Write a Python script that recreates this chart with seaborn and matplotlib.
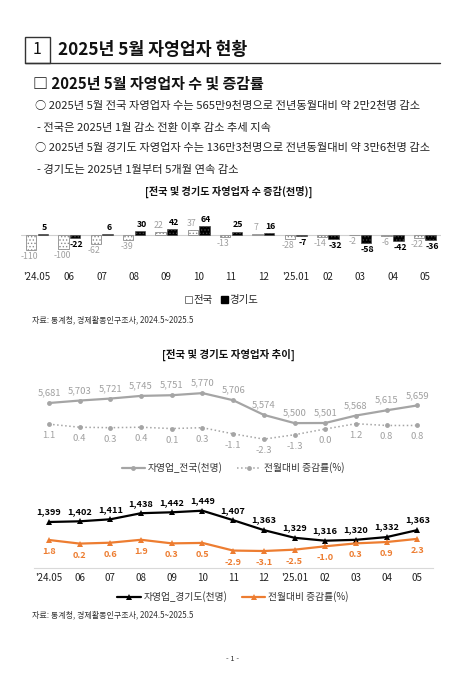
import pandas as pd
import seaborn as sns
import matplotlib.pyplot as plt
from matplotlib.patches import Patch, Rectangle
from matplotlib.lines import Line2D

months = ["'24.05", "06", "07", "08", "09", "10", "11", "12", "'25.01", "02", "03", "04", "05"]
diff_nat = [-110, -100, -62, -39, 22, 37, -13, 7, -28, -14, -2, -6, -22]
diff_gg = [5, -22, 6, 30, 42, 64, 25, 16, -7, -32, -58, -42, -36]
nat_val = [5681, 5703, 5721, 5745, 5751, 5770, 5706, 5574, 5500, 5501, 5568, 5615, 5659]
nat_rate = [1.1, 0.4, 0.3, 0.4, 0.1, 0.3, -1.1, -2.3, -1.3, 0.0, 1.2, 0.8, 0.8]
gg_val = [1399, 1402, 1411, 1438, 1442, 1449, 1407, 1363, 1329, 1316, 1320, 1332, 1363]
gg_rate = [1.8, 0.2, 0.6, 1.9, 0.3, 0.5, -2.9, -3.1, -2.5, -1.0, 0.3, 0.9, 2.3]

sns.set_theme(style="white")
plt.rcParams['font.family'] = ['Noto Sans CJK KR', 'DejaVu Sans']
plt.rcParams['hatch.linewidth'] = 0.6

W, H = 465, 677
GRAY = '#A5A5A5'
GRAY_TXT = '#A0A0A0'
ORANGE = '#ED7D31'

fig = plt.figure(figsize=(W / 100, H / 100), dpi=100)


def px(x, y):
    return x / W, 1 - y / H


def axes_px(l, t, r, b):
    return fig.add_axes([l / W, 1 - b / H, (r - l) / W, (b - t) / H])


def ftext(x, y, s, **kw):
    fig.text(*px(x, y), s, **kw)


# header
fig.add_artist(Line2D([25 / W, 440 / W], [1 - 63 / H] * 2, color='#333333', lw=1.0, transform=fig.transFigure))
fig.add_artist(Rectangle(px(25, 63), 25 / W, 26 / H, fill=False, edgecolor='#333333', lw=1.0, transform=fig.transFigure))
ftext(37.5, 50, '1', fontsize=11.5, ha='center', va='center', color='#111111')
ftext(58, 50, '2025년 5월 자영업자 현황', fontsize=12.4, ha='left', va='center', color='#111111', fontweight='bold')
ftext(33, 84, '□ 2025년 5월 자영업자 수 및 증감률', fontsize=10.8, ha='left', va='center', color='#111111', fontweight='bold')

bullets = [
    (35, 106, '○ 2025년 5월 전국 자영업자 수는 565만9천명으로 전년동월대비 약 2만2천명 감소'),
    (37, 128, '- 전국은 2025년 1월 감소 전환 이후 감소 추세 지속'),
    (35, 148, '○ 2025년 5월 경기도 자영업자 수는 136만3천명으로 전년동월대비 약 3만6천명 감소'),
    (37, 170, '- 경기도는 2025년 1월부터 5개월 연속 감소'),
]
for x, y, s in bullets:
    ftext(x, y, s, fontsize=8.1, ha='left', va='center', color='#222222')

ftext(229, 192, '[전국 및 경기도 자영업자 수 증감(천명)]', fontsize=7.3, ha='center', va='center', fontweight='bold', color='#111111')

# bar chart
ax1 = axes_px(20.85, 215, 441, 262)
df_bar = pd.DataFrame({
    'month': months * 2,
    'value': diff_nat + diff_gg,
    'region': ['전국'] * 13 + ['경기도'] * 13,
})
sns.barplot(data=df_bar, x='month', y='value', hue='region', palette=['white', 'black'],
            width=0.72, gap=0.1, ax=ax1, legend=False, saturation=1)
n = len(months)
for i, p in enumerate(ax1.patches[:2 * n]):
    if i < n:
        p.set_edgecolor('#8C8C8C')
        p.set_hatch('.....')
        p.set_linewidth(0.6)
    else:
        p.set_edgecolor('#444444')
        p.set_hatch('.....')
        p.set_linewidth(0.4)
ax1.set_ylim(-197, 146)
ax1.set_xlim(-0.5, 12.5)
ax1.axhline(0, color='#D0D0D0', lw=0.8, zorder=0)
for i, p in enumerate(ax1.patches[:2 * n]):
    v = (diff_nat + diff_gg)[i]
    xc = p.get_x() + p.get_width() / 2
    col = GRAY_TXT if i < n else 'black'
    fw = 'normal' if i < n else 'bold'
    dx = -1.2 if i < n else 1.2
    if v >= 0:
        ax1.annotate(f'{v}', (xc, v), xytext=(dx, 1.5), textcoords='offset points', ha='center', va='bottom',
                     fontsize=6.3, color=col, fontweight=fw)
    else:
        ax1.annotate(f'{v}', (xc, v), xytext=(dx, -1.5), textcoords='offset points', ha='center', va='top',
                     fontsize=6.3, color=col, fontweight=fw)
sns.despine(ax=ax1, left=True, bottom=True)
ax1.set_yticks([])
ax1.set_xlabel('')
ax1.set_ylabel('')
ax1.tick_params(axis='x', length=0, pad=7, labelsize=7, labelcolor='#222222')

leg_h = [Patch(facecolor='white', edgecolor='#666666', lw=0.6), Patch(facecolor='black', edgecolor='black')]
fig.legend(leg_h, ['전국', '경기도'], loc='center', bbox_to_anchor=px(222, 300), ncol=2, frameon=False,
           fontsize=7.5, handlelength=0.6, handleheight=0.6, handletextpad=0.2, columnspacing=0.8)
ftext(32, 320, '자료: 통계청, 경제활동인구조사, 2024.5~2025.5', fontsize=5.8, ha='left', va='center', color='#333333')

ftext(228, 355, '[전국 및 경기도 자영업자 추이]', fontsize=7.5, ha='center', va='center', fontweight='bold', color='#111111')

x_idx = list(range(n))

# line chart 1 (전국)
ax2 = axes_px(33.7, 370, 432.6, 450)
ax2b = ax2.twinx()
sns.lineplot(x=x_idx, y=nat_val, ax=ax2, color=GRAY, lw=1.6, marker='o', markersize=3.5, markeredgewidth=0)
sns.lineplot(x=x_idx, y=nat_rate, ax=ax2b, color=GRAY, lw=1.1, ls=':', marker='o', markersize=3.5, markeredgewidth=0)
ax2.set_ylim(5258, 5978)
ax2b.set_ylim(-4.77, 13.4)
for a in (ax2, ax2b):
    a.set_xlim(-0.5, 12.5)
    a.axis('off')
for i in x_idx:
    ax2.annotate(f'{nat_val[i]:,}', (i, nat_val[i]), xytext=(0, 4), textcoords='offset points',
                 ha='center', va='bottom', fontsize=6.8, color=GRAY_TXT)
    ax2b.annotate(f'{nat_rate[i]:.1f}', (i, nat_rate[i]), xytext=(0, -5), textcoords='offset points',
                  ha='center', va='top', fontsize=6.8, color=GRAY_TXT)
h2 = [Line2D([], [], color=GRAY, lw=1.6, marker='o', markersize=3.5, markeredgewidth=0),
      Line2D([], [], color=GRAY, lw=1.1, ls=':', marker='o', markersize=3.5, markeredgewidth=0)]
fig.legend(h2, ['자영업_전국(천명)', '전월대비 증감률(%)'], loc='center', bbox_to_anchor=px(233, 468), ncol=2,
           frameon=False, fontsize=7, handlelength=2.4, handletextpad=0.3, columnspacing=1.5,
           labelcolor='#333333')

# line chart 2 (경기도)
ax3 = axes_px(33.7, 500, 432.6, 568)
ax3b = ax3.twinx()
sns.lineplot(x=x_idx, y=gg_val, ax=ax3, color='black', lw=1.6, marker='^', markersize=4.5, markeredgewidth=0)
sns.lineplot(x=x_idx, y=gg_rate, ax=ax3b, color=ORANGE, lw=1.6, marker='^', markersize=4.5, markeredgewidth=0)
ax3.set_ylim(1195, 1496.5)
ax3b.set_ylim(-10.66, 19.6)
for a in (ax3, ax3b):
    a.set_xlim(-0.5, 12.5)
    for s in a.spines.values():
        s.set_visible(False)
    a.set_yticks([])
    a.set_ylabel('')
ax3.spines['bottom'].set_visible(True)
ax3.spines['bottom'].set_color('#D9D9D9')
ax3.spines['bottom'].set_linewidth(0.8)
ax3.set_xticks(x_idx)
ax3.set_xticklabels(months)
ax3.tick_params(axis='x', length=0, pad=3.5, labelsize=7, labelcolor='#222222')
ax3b.tick_params(axis='both', length=0)
for i in x_idx:
    ax3.annotate(f'{gg_val[i]:,}', (i, gg_val[i]), xytext=(0, 4), textcoords='offset points',
                 ha='center', va='bottom', fontsize=6.6, color='black', fontweight='bold')
    ax3b.annotate(f'{gg_rate[i]:.1f}', (i, gg_rate[i]), xytext=(0, -5), textcoords='offset points',
                  ha='center', va='top', fontsize=6.6, color=ORANGE, fontweight='bold')
h3 = [Line2D([], [], color='black', lw=1.6, marker='^', markersize=4.5, markeredgewidth=0),
      Line2D([], [], color=ORANGE, lw=1.6, marker='^', markersize=4.5, markeredgewidth=0)]
fig.legend(h3, ['자영업_경기도(천명)', '전월대비 증감률(%)'], loc='center', bbox_to_anchor=px(233, 597), ncol=2,
           frameon=False, fontsize=7, handlelength=2.4, handletextpad=0.3, columnspacing=1.5,
           labelcolor='#333333')
ftext(32, 615, '자료: 통계청, 경제활동인구조사, 2024.5~2025.5', fontsize=5.8, ha='left', va='center', color='#333333')
ftext(232, 659, '- 1 -', fontsize=5.5, ha='center', va='center', color='#333333')

fig.savefig('out.png', dpi=100)
